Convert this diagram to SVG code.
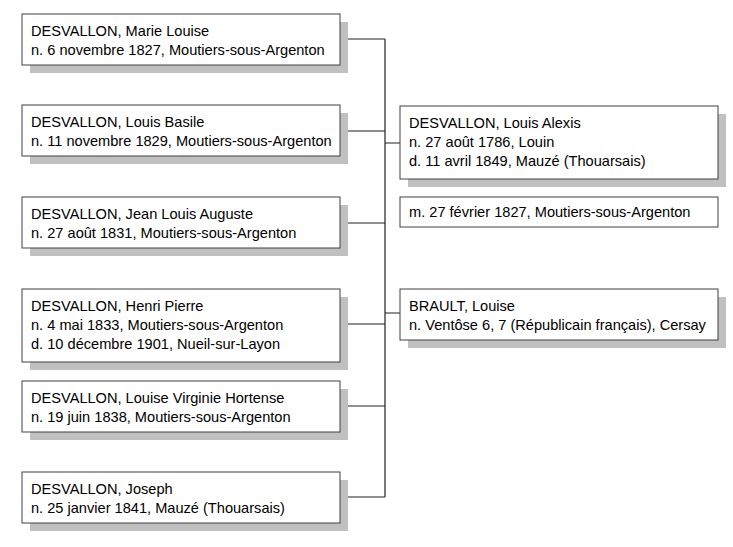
<svg xmlns="http://www.w3.org/2000/svg" width="733" height="547" viewBox="0 0 733 547">
<style>
.sh{fill:#c0c0c0}
.bx{fill:#fff;stroke:#404040;stroke-width:1}
text{font-family:"Liberation Sans",Arial,sans-serif;font-size:14.6px;fill:#000}
.ln{stroke:#202020;stroke-width:1.2;fill:none}
</style>
<rect width="733" height="547" fill="#fff"/>
<g id="connectors">
<path class="ln" d="M385 39V497M340 39H385M340 131H385M340 223H385M340 324H385M340 406H385M340 497H385M385 143H400M385 313H400"/>
</g>
<g id="n1"><rect class="sh" x="30" y="22" width="318" height="51"/><rect class="bx" x="22" y="14" width="318" height="51"/><text x="31" y="36">DESVALLON, Marie Louise</text><text x="31" y="55">n. 6 novembre 1827, Moutiers-sous-Argenton</text></g>
<g id="n2"><rect class="sh" x="30" y="113" width="318" height="51"/><rect class="bx" x="22" y="105" width="318" height="51"/><text x="31" y="127">DESVALLON, Louis Basile</text><text x="31" y="146">n. 11 novembre 1829, Moutiers-sous-Argenton</text></g>
<g id="n3"><rect class="sh" x="30" y="205" width="318" height="51"/><rect class="bx" x="22" y="197" width="318" height="51"/><text x="31" y="219">DESVALLON, Jean Louis Auguste</text><text x="31" y="238">n. 27 août 1831, Moutiers-sous-Argenton</text></g>
<g id="n4"><rect class="sh" x="30" y="297" width="318" height="73"/><rect class="bx" x="22" y="289" width="318" height="73"/><text x="31" y="311">DESVALLON, Henri Pierre</text><text x="31" y="330">n. 4 mai 1833, Moutiers-sous-Argenton</text><text x="31" y="349">d. 10 décembre 1901, Nueil-sur-Layon</text></g>
<g id="n5"><rect class="sh" x="30" y="389" width="318" height="51"/><rect class="bx" x="22" y="381" width="318" height="51"/><text x="31" y="403">DESVALLON, Louise Virginie Hortense</text><text x="31" y="422">n. 19 juin 1838, Moutiers-sous-Argenton</text></g>
<g id="n6"><rect class="sh" x="30" y="480" width="318" height="51"/><rect class="bx" x="22" y="472" width="318" height="51"/><text x="31" y="494">DESVALLON, Joseph</text><text x="31" y="513">n. 25 janvier 1841, Mauzé (Thouarsais)</text></g>
<g id="father"><rect class="sh" x="408" y="114" width="318" height="73"/><rect class="bx" x="400" y="106" width="318" height="73"/><text x="409" y="128">DESVALLON, Louis Alexis</text><text x="409" y="147">n. 27 août 1786, Louin</text><text x="409" y="166">d. 11 avril 1849, Mauzé (Thouarsais)</text></g>
<g id="marriage"><rect class="bx" x="400" y="197" width="318" height="30"/><text x="409" y="217">m. 27 février 1827, Moutiers-sous-Argenton</text></g>
<g id="mother"><rect class="sh" x="408" y="297" width="318" height="51"/><rect class="bx" x="400" y="289" width="318" height="51"/><text x="409" y="311">BRAULT, Louise</text><text x="409" y="330">n. Ventôse 6, 7 (Républicain français), Cersay</text></g>
</svg>
